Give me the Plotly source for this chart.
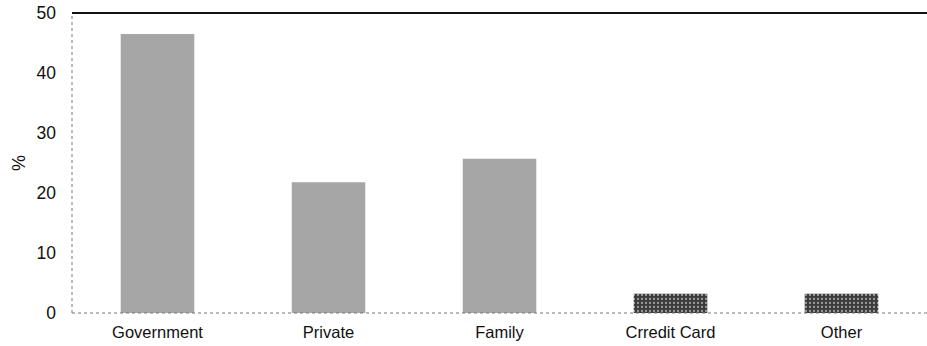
import plotly.graph_objects as go

categories = ["Government", "Private", "Family", "Crredit Card", "Other"]
values = [46.5, 21.8, 25.7, 3.2, 3.2]
bar_colors = ["#a6a6a6", "#a6a6a6", "#a6a6a6", "#3a3a3a", "#3a3a3a"]
bar_patterns = ["", "", "", ".", "."]
y_ticks = [0, 10, 20, 30, 40, 50]

fig = go.Figure(go.Bar(
    x=categories, y=values,
    marker=dict(color=bar_colors, line=dict(width=0),
                pattern=dict(shape=bar_patterns, fgcolor="#8a8a8a",
                             size=4, solidity=0.25, fillmode="overlay")),
))

font = "Liberation Sans, Arial, sans-serif"
fig.update_layout(
    width=927, height=346,
    margin=dict(l=72, r=0, t=13, b=33),
    paper_bgcolor="white", plot_bgcolor="white",
    bargap=0.57,
    showlegend=False,
    font=dict(family=font, color="#111", size=16),
    xaxis=dict(showgrid=False, showline=False, ticks="", automargin=False,
               tickfont=dict(size=16.5), ticklabelstandoff=7),
    yaxis=dict(range=[0, 50], tickvals=y_ticks, showgrid=False, showline=False,
               zeroline=False, ticks="", ticklabelstandoff=15, automargin=False,
               tickfont=dict(size=17.5),
               title=dict(text="%", font=dict(size=18), standoff=6)),
    shapes=[
        dict(type="line", xref="paper", yref="paper", x0=0, x1=1, y0=1, y1=1,
             line=dict(color="#111", width=2)),
        dict(type="line", xref="paper", yref="paper", x0=0, x1=0, y0=0, y1=1,
             line=dict(color="#777", width=1, dash="dot")),
        dict(type="line", xref="paper", yref="paper", x0=0, x1=1, y0=0, y1=0,
             line=dict(color="#777", width=1, dash="dot")),
    ],
)

fig.write_html("out.html", config={"displayModeBar": False},
               post_script="document.body.style.margin='0';")
